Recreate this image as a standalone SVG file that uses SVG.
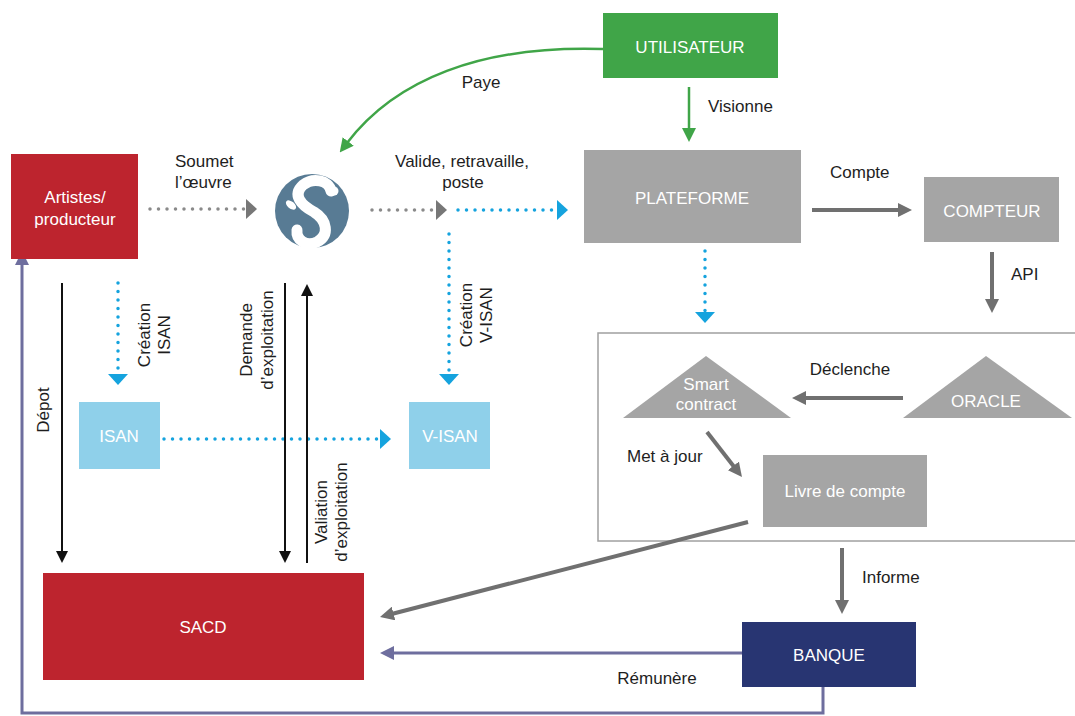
<svg xmlns="http://www.w3.org/2000/svg" width="1075" height="716" viewBox="0 0 1075 716">
<style>
  text { font-family: "Liberation Sans", Arial, sans-serif; font-size: 17px; }
  .lbl { fill: #1e1e1e; }
  .wt { fill: #ffffff; text-anchor: middle; }
  .mid { text-anchor: middle; }
  .red { fill: #BD242E; }
  .grey { fill: #A5A5A5; }
  .lblue { fill: #8FD0EA; }
  .gs { stroke: #707070; stroke-width: 4; fill: none; }
  .bk { stroke: #111111; stroke-width: 2; fill: none; }
  .pu { stroke: #6E6E9E; stroke-width: 3; fill: none; }
  .gr { stroke: #40A548; stroke-width: 2.5; fill: none; }
  .dotg { stroke: #8a8a8a; stroke-width: 3.5; stroke-linecap: round; stroke-dasharray: 0 8.5; fill: none; }
  .dotb { stroke: #15A3DE; stroke-width: 3.5; stroke-linecap: round; stroke-dasharray: 0 8.5; fill: none; }
</style>
<defs>
  <marker id="ag" markerUnits="userSpaceOnUse" markerWidth="14" markerHeight="14" refX="2" refY="7" orient="auto" viewBox="0 0 14 14">
    <path d="M0,0 L14,7 L0,14 z" fill="#707070"/>
  </marker>
  <marker id="ap" markerUnits="userSpaceOnUse" markerWidth="14" markerHeight="14" refX="2" refY="7" orient="auto" viewBox="0 0 14 14">
    <path d="M0,0 L14,7 L0,14 z" fill="#6E6E9E"/>
  </marker>
  <marker id="agr" markerUnits="userSpaceOnUse" markerWidth="14" markerHeight="14" refX="2" refY="7" orient="auto" viewBox="0 0 14 14">
    <path d="M0,0 L14,7 L0,14 z" fill="#40A548"/>
  </marker>
  <marker id="ak" markerUnits="userSpaceOnUse" markerWidth="12" markerHeight="12" refX="2" refY="6" orient="auto" viewBox="0 0 12 12">
    <path d="M0,0 L12,6 L0,12 z" fill="#111111"/>
  </marker>
  <marker id="adg" markerUnits="userSpaceOnUse" markerWidth="11" markerHeight="20" refX="0" refY="10" orient="auto" viewBox="0 0 11 20">
    <path d="M0,0 L11,10 L0,20 z" fill="#777777"/>
  </marker>
  <marker id="adb" markerUnits="userSpaceOnUse" markerWidth="11" markerHeight="20" refX="0" refY="10" orient="auto" viewBox="0 0 11 20">
    <path d="M0,0 L11,10 L0,20 z" fill="#15A3DE"/>
  </marker>
</defs>
<rect width="1075" height="716" fill="#ffffff"/>

<g id="container">
  <rect x="598" y="333" width="480" height="208" fill="none" stroke="#a0a0a0" stroke-width="1.5"/>
</g>

<g id="connectors">
  <!-- dotted grey / blue -->
  <line class="dotg" x1="150" y1="209" x2="246" y2="209" marker-end="url(#adg)"/>
  <line class="dotg" x1="372" y1="210" x2="436" y2="210" marker-end="url(#adg)"/>
  <line class="dotb" x1="458" y1="210" x2="557" y2="210" marker-end="url(#adb)"/>
  <line class="dotb" x1="449" y1="234" x2="449" y2="374" marker-end="url(#adb)"/>
  <line class="dotb" x1="705" y1="251" x2="705" y2="312" marker-end="url(#adb)"/>
  <line class="dotb" x1="118" y1="283" x2="118" y2="374" marker-end="url(#adb)"/>
  <line class="dotb" x1="164" y1="439" x2="380" y2="439" marker-end="url(#adb)"/>
  <!-- green -->
  <path class="gr" d="M603,49 C480,45 395,80 347,143" marker-end="url(#agr)"/>
  <line class="gr" x1="689" y1="87" x2="689" y2="130" marker-end="url(#agr)"/>
  <!-- grey solid -->
  <line class="gs" x1="812" y1="210" x2="900" y2="210" marker-end="url(#ag)"/>
  <line class="gs" x1="992" y1="252" x2="992" y2="301" marker-end="url(#ag)"/>
  <line class="gs" x1="903" y1="398" x2="804" y2="398" marker-end="url(#ag)"/>
  <line class="gs" x1="707" y1="432" x2="734.6" y2="467.5" marker-end="url(#ag)"/>
  <line class="gs" x1="748" y1="522" x2="391.6" y2="614" marker-end="url(#ag)"/>
  <line class="gs" x1="842" y1="548" x2="842" y2="602" marker-end="url(#ag)"/>
  <!-- black -->
  <line class="bk" x1="62" y1="283" x2="62" y2="553" marker-end="url(#ak)"/>
  <line class="bk" x1="285" y1="283" x2="285" y2="553" marker-end="url(#ak)"/>
  <line class="bk" x1="307" y1="563" x2="307" y2="294" marker-end="url(#ak)"/>
  <!-- purple -->
  <line class="pu" x1="742" y1="653" x2="392" y2="653" marker-end="url(#ap)"/>
  <path class="pu" d="M823,687 V713 H22 V263" marker-end="url(#ap)"/>

  <!-- connector labels -->
  <text class="lbl" x="175" y="167">Soumet</text>
  <text class="lbl" x="175" y="188">l’œuvre</text>
  <text class="lbl mid" x="462" y="167">Valide, retravaille,</text>
  <text class="lbl mid" x="463" y="188">poste</text>
  <text class="lbl mid" x="481" y="88">Paye</text>
  <text class="lbl" x="708" y="112">Visionne</text>
  <text class="lbl" x="830" y="178">Compte</text>
  <text class="lbl" x="1011" y="280">API</text>
  <text class="lbl mid" x="850" y="375">Déclenche</text>
  <text class="lbl" x="627" y="462">Met à jour</text>
  <text class="lbl" x="862" y="583">Informe</text>
  <text class="lbl mid" x="657" y="684">Rémunère</text>
  <text class="lbl mid" transform="translate(49,410) rotate(-90)">Dépot</text>
  <text class="lbl mid" transform="translate(150,335) rotate(-90)">Création</text>
  <text class="lbl mid" transform="translate(170,335) rotate(-90)">ISAN</text>
  <text class="lbl mid" transform="translate(252,340) rotate(-90)">Demande</text>
  <text class="lbl mid" transform="translate(273,340) rotate(-90)">d’exploitation</text>
  <text class="lbl mid" transform="translate(327,512) rotate(-90)">Valiation</text>
  <text class="lbl mid" transform="translate(347,512) rotate(-90)">d’exploitation</text>
  <text class="lbl mid" transform="translate(472,315) rotate(-90)">Création</text>
  <text class="lbl mid" transform="translate(492,315) rotate(-90)">V-ISAN</text>
</g>

<g id="artistes">
  <rect class="red" x="11" y="154" width="127" height="105"/>
  <text class="wt" x="75" y="203">Artistes/</text>
  <text class="wt" x="75" y="225">producteur</text>
</g>

<g id="logo">
  <circle cx="312" cy="211" r="37" fill="#587B94"/>
  <path d="M331,191 C329,180 313,177 303,185 C292,195 301,205 314,212 C327,220 330,235 317,242 C306,247 296,240 297,230" fill="none" stroke="#ffffff" stroke-width="11" stroke-linecap="round"/>
  <circle cx="334" cy="191" r="4.5" fill="#ffffff"/>
  <ellipse cx="291" cy="205" rx="3.5" ry="6" transform="rotate(-50 291 205)" fill="#ffffff"/>
</g>

<g id="utilisateur">
  <rect x="603" y="13" width="175" height="65" fill="#40A548"/>
  <text class="wt" x="690" y="53">UTILISATEUR</text>
</g>

<g id="plateforme">
  <rect class="grey" x="584" y="150" width="217" height="93"/>
  <text class="wt" x="692" y="204">PLATEFORME</text>
</g>

<g id="compteur">
  <rect class="grey" x="924" y="177" width="135" height="65"/>
  <text class="wt" x="992" y="217">COMPTEUR</text>
</g>

<g id="smart-contract">
  <polygon class="grey" points="706,356 791,418 623,418"/>
  <text class="wt" x="706" y="390">Smart</text>
  <text class="wt" x="706" y="410">contract</text>
</g>

<g id="oracle">
  <polygon class="grey" points="986,356 1072,418 903,418"/>
  <text class="wt" x="986" y="407">ORACLE</text>
</g>

<g id="livre">
  <rect class="grey" x="763" y="455" width="164" height="72"/>
  <text class="wt" x="845" y="497">Livre de compte</text>
</g>

<g id="isan">
  <rect class="lblue" x="79" y="402" width="81" height="67"/>
  <text class="wt" x="119" y="442">ISAN</text>
</g>

<g id="v-isan">
  <rect class="lblue" x="409" y="402" width="81" height="67"/>
  <text class="wt" x="450" y="442">V-ISAN</text>
</g>

<g id="sacd">
  <rect class="red" x="43" y="573" width="321" height="107"/>
  <text class="wt" x="203" y="633">SACD</text>
</g>

<g id="banque">
  <rect x="742" y="622" width="174" height="65" fill="#283572"/>
  <text class="wt" x="829" y="661">BANQUE</text>
</g>
</svg>
